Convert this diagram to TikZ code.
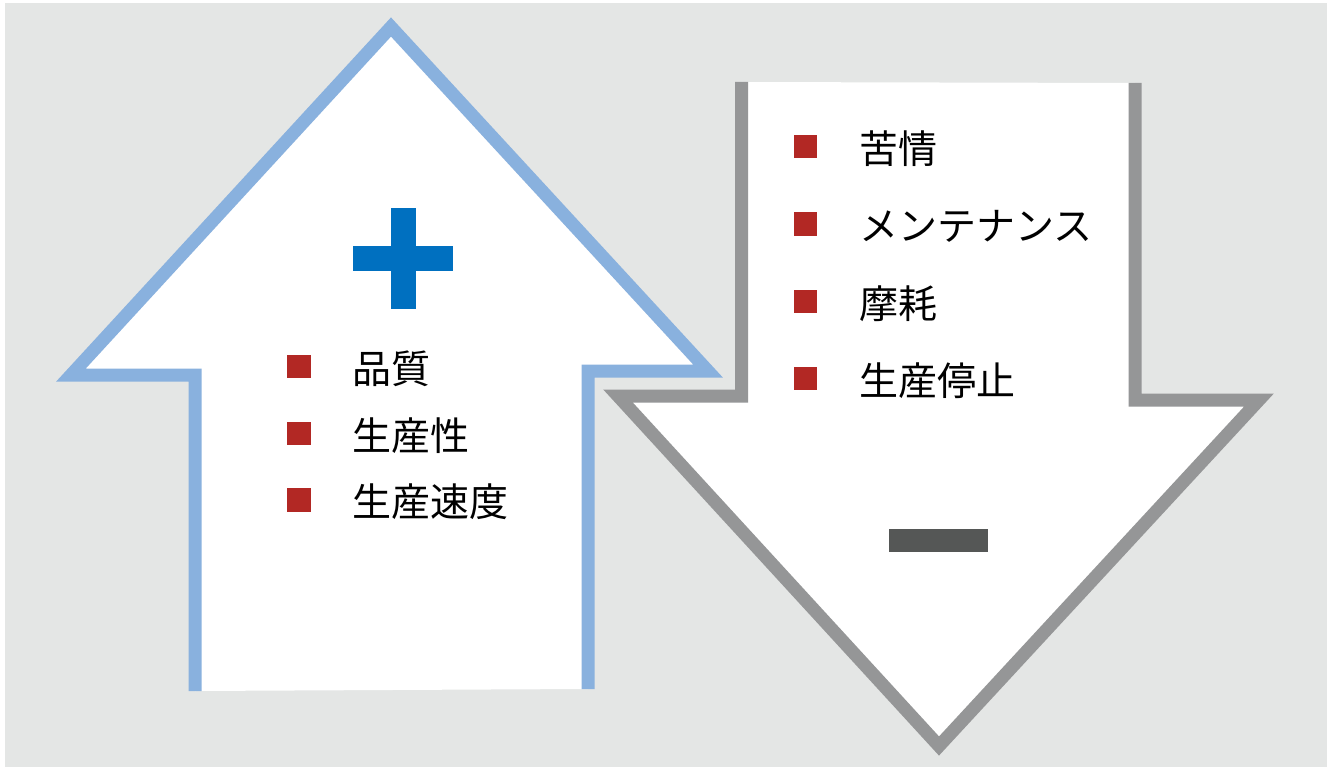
\documentclass[tikz,border=0pt]{standalone}
\usepackage{fontspec}
\newfontfamily\cjk{Noto Sans CJK JP}
\definecolor{bggray}{HTML}{E4E6E5}
\definecolor{upblue}{HTML}{89B1DE}
\definecolor{downgray}{HTML}{959697}
\definecolor{plusblue}{HTML}{0070C0}
\definecolor{minusgray}{HTML}{555756}
\definecolor{bulletred}{HTML}{B22824}
\tikzset{
  arrowline/.style={line width=13pt, line join=miter, miter limit=10},
  bullet/.style={fill=bulletred, draw=none, minimum size=23.5pt, inner sep=0pt, rectangle},
  item/.style={anchor=west, inner sep=0pt, font=\cjk\fontsize{39}{39}\selectfont, text=black}
}
\begin{document}
\begin{tikzpicture}[x=1pt,y=-1pt]
\useasboundingbox (0,0) rectangle (1327,767);
\fill[bggray] (5,3) rectangle (1327,767);
% up arrow
\fill[white] (195,691) -- (195,375) -- (71,375) -- (391,27) -- (708,371) -- (588,371) -- (588,689) -- cycle;
\draw[arrowline, upblue] (195,691) -- (195,375) -- (71,375) -- (391,27) -- (708,371) -- (588,371) -- (588,689);
% down arrow
\fill[white] (741.5,82) -- (741.5,396) -- (618,396) -- (939,746) -- (1259,400) -- (1135,400) -- (1135,83) -- cycle;
\draw[arrowline, downgray] (741.5,82) -- (741.5,396) -- (618,396) -- (939,746) -- (1259,400) -- (1135,400) -- (1135,83);
% plus
\fill[plusblue] (391,207.7) rectangle (416,309);
\fill[plusblue] (353.3,246) rectangle (453.3,271);
% minus
\fill[minusgray] (889,529) rectangle (988,551.7);
% left list
\node[bullet] (b1) at (299,366.7) {};
\node[bullet] (b2) at (299,433.3) {};
\node[bullet] (b3) at (299,500) {};
\node[item] (t1) at (352,369) {品質};
\node[item] (t2) at (352,435.5) {生産性};
\node[item] (t3) at (352,502) {生産速度};
% right list
\node[bullet] (r1) at (805.7,146.7) {};
\node[bullet] (r2) at (805.7,224) {};
\node[bullet] (r3) at (805.7,301.7) {};
\node[bullet] (r4) at (805.7,378.3) {};
\node[item] (s1) at (859,149) {苦情};
\node[item] (s2) at (859,226) {メンテナンス};
\node[item] (s3) at (859,304) {摩耗};
\node[item] (s4) at (859,380.5) {生産停止};
\end{tikzpicture}
\end{document}
